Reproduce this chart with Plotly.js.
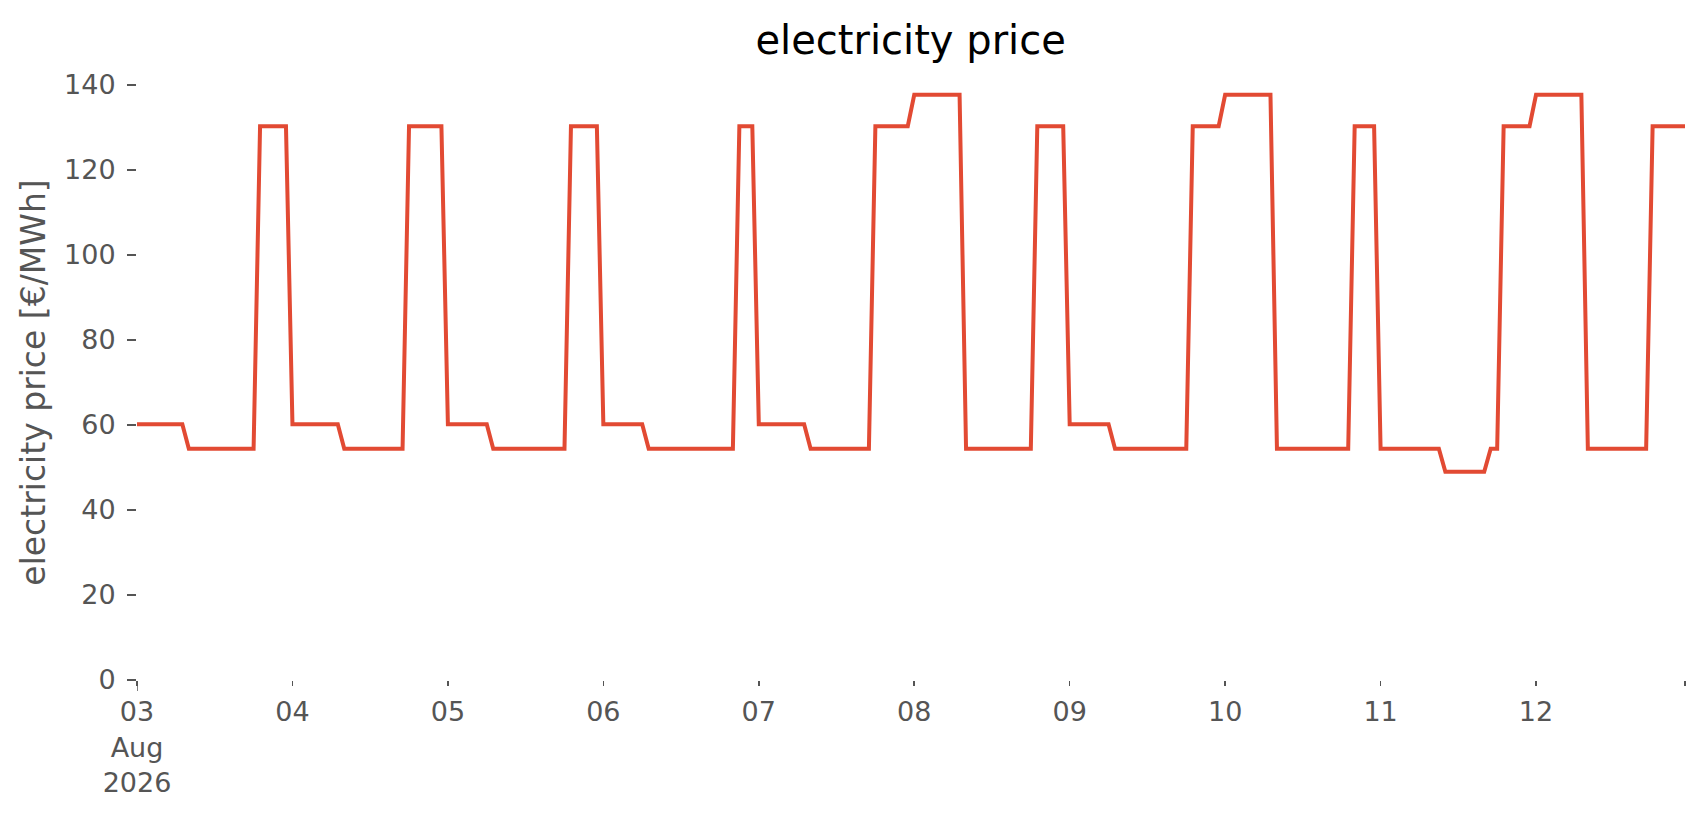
<!DOCTYPE html>
<html>
<head>
<meta charset="utf-8">
<script src="https://cdn.plot.ly/plotly-3.0.1.min.js"></script>
<style>
  html, body { margin: 0; padding: 0; background: #ffffff; }
  #chart { width: 1706px; height: 815px; }
</style>
</head>
<body>
<div id="chart"></div>
<script>
// ---- data (hourly electricity price, €/MWh) ----
const startTime = '2026-08-03T00:00:00';
const hoursCount = 240;

// values, one row per day (24 hours each)
const price_0803 = [60.2,60.2,60.2,60.2,60.2,60.2,60.2,60.2,54.4,54.4,54.4,54.4,54.4,54.4,54.4,54.4,54.4,54.4,54.4,130.3,130.3,130.3,130.3,130.3];
const price_0804 = [60.2,60.2,60.2,60.2,60.2,60.2,60.2,60.2,54.4,54.4,54.4,54.4,54.4,54.4,54.4,54.4,54.4,54.4,130.3,130.3,130.3,130.3,130.3,130.3];
const price_0805 = [60.2,60.2,60.2,60.2,60.2,60.2,60.2,54.4,54.4,54.4,54.4,54.4,54.4,54.4,54.4,54.4,54.4,54.4,54.4,130.3,130.3,130.3,130.3,130.3];
const price_0806 = [60.2,60.2,60.2,60.2,60.2,60.2,60.2,54.4,54.4,54.4,54.4,54.4,54.4,54.4,54.4,54.4,54.4,54.4,54.4,54.4,54.4,130.3,130.3,130.3];
const price_0807 = [60.2,60.2,60.2,60.2,60.2,60.2,60.2,60.2,54.4,54.4,54.4,54.4,54.4,54.4,54.4,54.4,54.4,54.4,130.3,130.3,130.3,130.3,130.3,130.3];
const price_0808 = [137.7,137.7,137.7,137.7,137.7,137.7,137.7,137.7,54.4,54.4,54.4,54.4,54.4,54.4,54.4,54.4,54.4,54.4,54.4,130.3,130.3,130.3,130.3,130.3];
const price_0809 = [60.2,60.2,60.2,60.2,60.2,60.2,60.2,54.4,54.4,54.4,54.4,54.4,54.4,54.4,54.4,54.4,54.4,54.4,54.4,130.3,130.3,130.3,130.3,130.3];
const price_0810 = [137.7,137.7,137.7,137.7,137.7,137.7,137.7,137.7,54.4,54.4,54.4,54.4,54.4,54.4,54.4,54.4,54.4,54.4,54.4,54.4,130.3,130.3,130.3,130.3];
const price_0811 = [54.4,54.4,54.4,54.4,54.4,54.4,54.4,54.4,54.4,54.4,49.0,49.0,49.0,49.0,49.0,49.0,49.0,54.4,54.4,130.3,130.3,130.3,130.3,130.3];
const price_0812 = [137.7,137.7,137.7,137.7,137.7,137.7,137.7,137.7,54.4,54.4,54.4,54.4,54.4,54.4,54.4,54.4,54.4,54.4,130.3,130.3,130.3,130.3,130.3,130.3];

const dayTicks = ['2026-08-03','2026-08-04','2026-08-05','2026-08-06','2026-08-07','2026-08-08','2026-08-09','2026-08-10','2026-08-11','2026-08-12'];
const dayLabels = ['03<br>Aug<br>2026','04','05','06','07','08','09','10','11','12'];
const endTick = '2026-08-12 23:00';

// ---- build trace ----
const prices = [].concat(price_0803, price_0804, price_0805, price_0806, price_0807,
                         price_0808, price_0809, price_0810, price_0811, price_0812);
function fmt(d) {
  const p = n => String(n).padStart(2, '0');
  return d.getUTCFullYear() + '-' + p(d.getUTCMonth() + 1) + '-' + p(d.getUTCDate()) +
         ' ' + p(d.getUTCHours()) + ':00';
}
const t0 = Date.parse(startTime + 'Z');
const times = [];
for (let i = 0; i < hoursCount; i++) times.push(fmt(new Date(t0 + i * 3600 * 1000)));

const trace = {
  x: times,
  y: prices,
  type: 'scatter',
  mode: 'lines',
  line: { color: '#E24A33', width: 4 },
  hoverinfo: 'skip'
};

const layout = {
  width: 1706,
  height: 815,
  paper_bgcolor: '#ffffff',
  plot_bgcolor: '#ffffff',
  showlegend: false,
  font: { family: 'DejaVu Sans', color: '#555555' },
  margin: { l: 137, r: 21, t: 85, b: 135 },
  title: {
    text: 'electricity price',
    font: { family: 'DejaVu Sans', size: 40, color: '#000000' },
    x: 0.5338, xref: 'container', xanchor: 'center',
    y: 1 - 40 / 815, yref: 'container', yanchor: 'middle'
  },
  xaxis: {
    type: 'date',
    range: [times[0], times[times.length - 1]],
    tickmode: 'array',
    tickvals: dayTicks.concat([endTick]),
    ticktext: dayLabels.concat(['']),
    ticks: 'outside',
    ticklen: 5,
    tickwidth: 1.5,
    tickcolor: '#555555',
    ticklabelstandoff: 3,
    tickfont: { family: 'DejaVu Sans', size: 27, color: '#555555' },
    showgrid: false,
    zeroline: false,
    showline: false,
    fixedrange: true
  },
  yaxis: {
    range: [0, 140],
    tickmode: 'linear',
    tick0: 0,
    dtick: 20,
    ticks: 'outside',
    ticklen: 9,
    tickwidth: 1.5,
    tickcolor: '#555555',
    ticklabelstandoff: 6,
    tickfont: { family: 'DejaVu Sans', size: 27, color: '#555555' },
    showgrid: false,
    zeroline: false,
    showline: false,
    fixedrange: true,
    automargin: false,
    title: {
      text: 'electricity price [€/MWh]',
      font: { family: 'DejaVu Sans', size: 33, color: '#555555' },
      standoff: 8
    }
  },
  shapes: [
    {
      type: 'line', xref: 'x', x0: dayTicks[0], x1: dayTicks[0],
      yref: 'paper', ysizemode: 'pixel', yanchor: 0, y0: -1, y1: -11,
      line: { color: '#555555', width: 1.5 }
    }
  ]
};

Plotly.newPlot('chart', [trace], layout, { displayModeBar: false, staticPlot: true });
</script>
</body>
</html>
